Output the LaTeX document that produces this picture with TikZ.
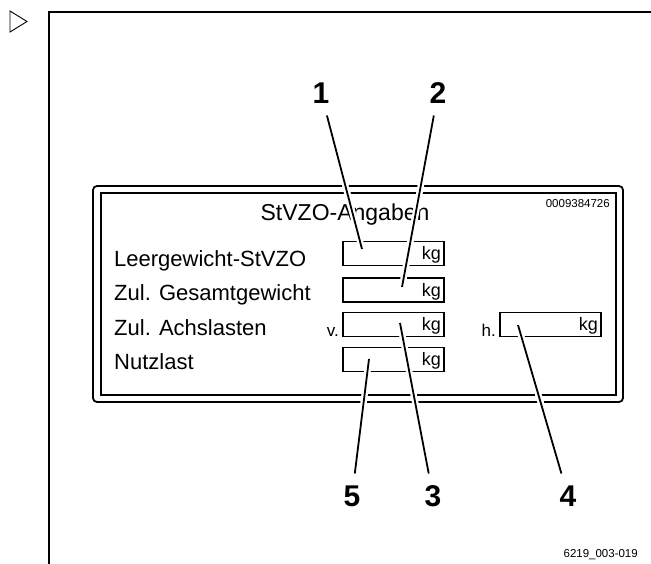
\documentclass[tikz,border=0pt]{standalone}
\usepackage{fontspec}
\setmainfont{Liberation Sans}

\begin{document}
\begin{tikzpicture}[x=1pt,y=-1pt,
  leader/.style={line width=1.8pt,preaction={draw=white,line width=6.5pt}},
  valbox/.style={draw,line width=1.4pt,inner sep=3pt,text width=95pt,align=right,
    text height=12.5pt,text depth=0pt,minimum height=24pt,font=\fontsize{18}{18}\selectfont},
  callout/.style={font=\bfseries\fontsize{30}{30}\selectfont,inner sep=0pt,outer sep=12pt,
    text height=21pt,text depth=0pt},
  rowtext/.style={anchor=base west,inner sep=0pt,font=\fontsize{22}{22}\selectfont},
  axtext/.style={anchor=base east,inner sep=0pt,font=\fontsize{17}{17}\selectfont},
  idtext/.style={anchor=base east,inner sep=0pt,font=\fontsize{11.5}{11.5}\selectfont}]

\useasboundingbox (0,0) rectangle (651,563);

% Marker
\draw[line width=0.9pt] (10,11) -- (10,32) -- (27,21.5) -- cycle;

% Frame
\draw[line width=2pt] (49,570) -- (49,12) -- (660,12);

% Plate
\draw[line width=1.8pt,rounded corners=4pt] (93,186) rectangle (623,402);
\draw[line width=1.8pt] (101,193) rectangle (616,395);

\node[idtext] (serial) at (610,207) {0009384726};
\node[anchor=base,inner sep=0pt,font=\fontsize{23}{23}\selectfont] (title) at (345,220) {StVZO-Angaben};

% Rows
\node[rowtext] (r1) at (114,266) {Leergewicht-StVZO};
\node[rowtext] (r2) at (114,300) {Zul. Gesamtgewicht};
\node[rowtext] (r3) at (114,335) {Zul. Achslasten};
\node[rowtext] (r4) at (114,369) {Nutzlast};

% Value fields
\node[valbox] (b1) at (393.5,253.7) {kg};
\node[valbox] (b2) at (393.5,290) {kg};
\node[valbox] (b3) at (393.5,324.7) {kg};
\node[valbox] (b4) at (393.5,359.3) {kg};
\node[valbox] (b5) at (550.5,324.7) {kg};

\node[axtext] (front) at (339,336.7) {v.};
\node[axtext] (rear) at (496,336.7) {h.};

% Callouts
\node[callout] (n1) at (321,93) {1};
\node[callout] (n2) at (438,93) {2};
\node[callout] (n3) at (433,496) {3};
\node[callout] (n4) at (568,496) {4};
\node[callout] (n5) at (352,496) {5};

\coordinate (t1) at (362,249);
\coordinate (t2) at (402,287);
\coordinate (t3) at (400,323);
\coordinate (t4) at (518,325);
\coordinate (t5) at (369,359);

\draw[leader] (n1) -- (t1);
\draw[leader] (n2) -- (t2);
\draw[leader] (n3) -- (t3);
\draw[leader] (n4) -- (t4);
\draw[leader] (n5) -- (t5);

\node[idtext] (figid) at (638,557) {6219\_003-019};

\end{tikzpicture}
\end{document}
